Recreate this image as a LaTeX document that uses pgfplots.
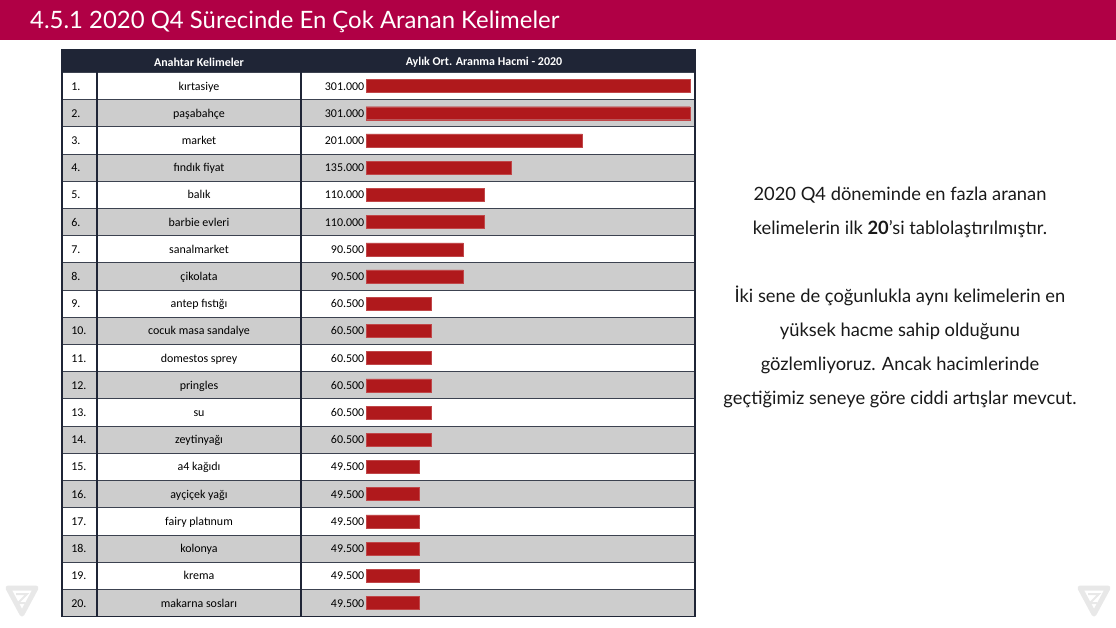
\documentclass[border=0pt]{standalone}
\usepackage{fontspec}
\setmainfont{Lato}
\newfontfamily\tabfont{Carlito}
\usepackage{pgfplots}
\usepackage{pgfplotstable}
\pgfplotsset{compat=1.18}

\definecolor{titlered}{HTML}{B00045}
\definecolor{navy}{HTML}{1F2536}
\definecolor{rowgrey}{HTML}{CDCDCD}
\definecolor{barred}{HTML}{B0191C}
\definecolor{rowline}{HTML}{3C4250}
\definecolor{logogrey}{HTML}{E8E8E8}

% rank, keyword, monthly average search volume, printed value
\pgfplotstableread[col sep=comma]{
rank,num,kw,val,lab
1,1.,kırtasiye,301000,301.000
2,2.,paşabahçe,301000,301.000
3,3.,market,201000,201.000
4,4.,fındık fiyat,135000,135.000
5,5.,balık,110000,110.000
6,6.,barbie evleri,110000,110.000
7,7.,sanalmarket,90500,90.500
8,8.,çikolata,90500,90.500
9,9.,antep fıstığı,60500,60.500
10,10.,cocuk masa sandalye,60500,60.500
11,11.,domestos sprey,60500,60.500
12,12.,pringles,60500,60.500
13,13.,su,60500,60.500
14,14.,zeytinyağı,60500,60.500
15,15.,a4 kağıdı,49500,49.500
16,16.,ayçiçek yağı,49500,49.500
17,17.,fairy platınum,49500,49.500
18,18.,kolonya,49500,49.500
19,19.,krema,49500,49.500
20,20.,makarna sosları,49500,49.500
}\keywords

\begin{document}
\begin{tikzpicture}
\begin{scope}[x=1bp,y=-1bp]
\useasboundingbox (0,0) rectangle (1116,628);
\fill[white] (0,0) rectangle (1116,628);

% title bar
\fill[titlered] (0,0) rectangle (1116,40.5);
\node[anchor=base west, inner sep=0, text=white, font=\fontsize{24}{27}\selectfont]
  at (30,29) {4.5.1 2020 Q4 Sürecinde En Çok Aranan Kelimeler};

% corner logos
\foreach \cx in {22,1094}{
  \draw[logogrey, line width=5bp, line join=round] (\cx-14,588) -- (\cx+14,588) -- (\cx,614) -- cycle;
  \draw[logogrey, line width=2bp] (\cx-6,594) -- (\cx+5,594) -- (\cx-4,603) -- (\cx+3,603);
}

% table rows
\foreach \i in {1,...,20}{
  \pgfmathsetmacro{\top}{72.4+(\i-1)*27.21}
  \ifodd\i
    \fill[white] (62,\top) rectangle (695,\top+27.21);
  \else
    \fill[rowgrey] (62,\top) rectangle (695,\top+27.21);
  \fi
  \draw[rowline, line width=0.9bp] (62,\top) -- (695,\top);
}
\fill[navy] (62,50) rectangle (695,72.4);
\draw[navy, line width=2bp] (97,72.4) -- (97,616.6);
\draw[navy, line width=2bp] (301,72.4) -- (301,616.6);
\draw[navy, line width=1.6bp] (62,50) rectangle (695,616.6);
\node[text=white, font=\tabfont\bfseries\fontsize{12}{14}\selectfont] at (199,62) {Anahtar Kelimeler};
\node[text=white, font=\tabfont\bfseries\fontsize{12}{14}\selectfont] at (484,62) {Aylık Ort. Aranma Hacmi - 2020};

% commentary
\begin{scope}[every node/.style={font=\fontsize{18.4}{21}\selectfont, anchor=mid, text={black!90}}]
\node at (900,198) {2020 Q4 döneminde en fazla aranan};
\node at (900,232) {kelimelerin ilk \textbf{20}’si tablolaştırılmıştır.};
\node at (900,300) {İki sene de çoğunlukla aynı kelimelerin en};
\node at (900,334) {yüksek hacme sahip olduğunu};
\node at (900,368) {gözlemliyoruz. Ancak hacimlerinde};
\node at (900,402) {geçtiğimiz seneye göre ciddi artışlar mevcut.};
\end{scope}
\end{scope}

\begin{axis}[
  at={(62bp,-616.6bp)}, anchor=south west,
  scale only axis, width=633bp, height=544.2bp,
  xmin=-282420, xmax=305645,
  ymin=0.5, ymax=20.5, y dir=reverse,
  axis line style={draw=none}, ticks=none, clip=false,
  every node near coord/.append style={font=\tabfont\fontsize{12}{14}\selectfont, text=black, inner sep=1bp, yshift=-1.5bp},
]
  \addplot[xbar, bar width=13bp, fill=barred, draw=barred!80!white, line width=0.4bp]
    table[x=val, y=rank] {\keywords};
  \addplot[only marks, mark=none, point meta=explicit symbolic, nodes near coords,
    every node near coord/.append style={anchor=mid east}]
    table[x expr=-500, y=rank, meta=lab] {\keywords};
  \addplot[only marks, mark=none, point meta=explicit symbolic, nodes near coords,
    every node near coord/.append style={anchor=mid}]
    table[x expr=-155145, y=rank, meta=kw] {\keywords};
  \addplot[only marks, mark=none, point meta=explicit symbolic, nodes near coords,
    every node near coord/.append style={anchor=mid west}]
    table[x expr=-274900, y=rank, meta=num] {\keywords};
\end{axis}
\end{tikzpicture}
\end{document}
